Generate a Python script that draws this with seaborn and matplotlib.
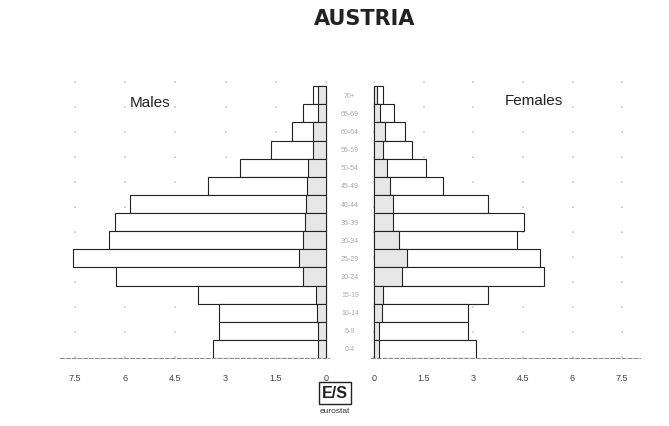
import matplotlib
matplotlib.use("Agg")
import matplotlib.pyplot as plt
import matplotlib.transforms as mtransforms
import pandas as pd
import seaborn as sns

# age groups, top of the pyramid first
ages = ["70+", "65-69", "60-64", "55-59", "50-54", "45-49", "40-44", "35-39",
        "30-34", "25-29", "20-24", "15-19", "10-14", "5-9", "0-4"]
males_total = [0.39, 0.69, 1.01, 1.64, 2.57, 3.52, 5.85, 6.30,
               6.48, 7.55, 6.27, 3.82, 3.19, 3.19, 3.37]
males_inner = [0.24, 0.24, 0.39, 0.39, 0.54, 0.57, 0.60, 0.63,
               0.69, 0.81, 0.69, 0.30, 0.27, 0.24, 0.24]
females_total = [0.27, 0.60, 0.94, 1.15, 1.57, 2.08, 3.45, 4.54,
                 4.32, 5.02, 5.14, 3.45, 2.84, 2.84, 3.08]
females_inner = [0.10, 0.18, 0.33, 0.27, 0.39, 0.48, 0.57, 0.57,
                 0.76, 1.00, 0.85, 0.27, 0.24, 0.15, 0.15]
tick_vals = [0, 1.5, 3, 4.5, 6, 7.5]
tick_labels = ["0", "1.5", "3", "4.5", "6", "7.5"]

df = pd.DataFrame({"age": ages, "m_tot": males_total, "m_in": males_inner,
                   "f_tot": females_total, "f_in": females_inner})

sns.set_style("white")
plt.rcParams["font.family"] = ["Liberation Sans", "DejaVu Sans"]

W, H = 669, 427
fig = plt.figure(figsize=(W / 100, H / 100), dpi=100)
bottom = (H - 359) / H
height = (359 - 80) / H
axL = fig.add_axes([60 / W, bottom, (329 - 60) / W, height])
axR = fig.add_axes([371 / W, bottom, (640 - 371) / W, height])

for ax, tot, inner in [(axL, "m_tot", "m_in"), (axR, "f_tot", "f_in")]:
    sns.barplot(data=df, x=tot, y="age", orient="h", color="white",
                saturation=1, edgecolor="#222222", linewidth=0.8,
                width=1.0, ax=ax)
    sns.barplot(data=df, x=inner, y="age", orient="h", color="#e6e6e6",
                saturation=1, edgecolor="#222222", linewidth=0.8,
                width=1.0, ax=ax)
    ax.set_ylim(14.5, -0.9)
    ax.set_xlabel("")
    ax.set_ylabel("")
    ax.set_yticks([])
    ax.set_xticks(tick_vals)
    ax.set_xticklabels(tick_labels, fontsize=6.5, color="#444444")
    ax.tick_params(axis="x", length=2, width=0.6, color="#777777", pad=9)
    ax.grid(axis="x", color="#c8c8c8", linestyle=(0, (1, 14)), linewidth=1.2)
    ax.set_axisbelow(True)
    for s in ["top", "left", "right"]:
        ax.spines[s].set_visible(False)
    ax.spines["bottom"].set_color("#888888")
    ax.spines["bottom"].set_linewidth(0.7)
    ax.spines["bottom"].set_linestyle((0, (4, 2)))

axL.set_xlim(7.95, -0.09)
axR.set_xlim(-0.09, 8.04)

# age group labels in the middle column
trans = mtransforms.blended_transform_factory(fig.transFigure, axL.transData)
for i, a in enumerate(ages):
    fig.text(350 / W, i, a, transform=trans, ha="center", va="center",
             fontsize=5, color="#aaaaaa")

fig.text(365 / W, 1 - 19 / H, "AUSTRIA", ha="center", va="center",
         fontsize=15, fontweight="bold", color="#222222",
         family="DejaVu Sans")
fig.text(150 / W, 1 - 103 / H, "Males", ha="center", va="center",
         fontsize=11, color="#222222")
fig.text(534 / W, 1 - 101 / H, "Females", ha="center", va="center",
         fontsize=11, color="#222222")

# eurostat logo
fig.text(335 / W, 1 - 394 / H, "E/S", ha="center", va="center",
         fontsize=11.5, fontweight="bold", color="#222222",
         bbox=dict(boxstyle="square,pad=0.2", fc="white", ec="#222222", lw=1))
fig.text(335 / W, 1 - 412 / H, "eurostat", ha="center", va="center",
         fontsize=6, color="#333333")

fig.savefig("out.png", dpi=100)
